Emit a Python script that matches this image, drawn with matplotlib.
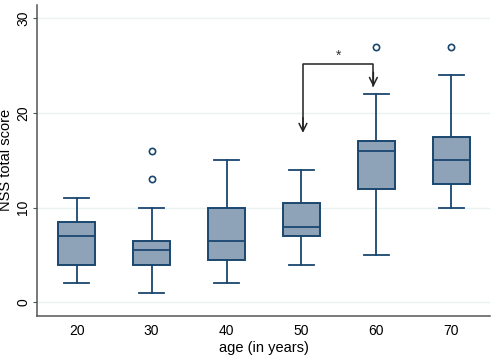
import matplotlib
matplotlib.use("Agg")
import matplotlib.pyplot as plt

ages = ["20", "30", "40", "50", "60", "70"]
whislo = [2, 1, 2, 4, 5, 10]
q1 = [4, 4, 4.5, 7, 12, 12.5]
med = [7, 5.5, 6.5, 8, 16, 15]
q3 = [8.5, 6.5, 10, 10.5, 17, 17.5]
whishi = [11, 10, 15, 14, 22, 24]
outliers = [[], [13, 16], [], [], [27], [27]]

plt.rcParams["font.family"] = ["Liberation Sans", "DejaVu Sans"]

navy = "#1a476f"
fill = "#8fa3b8"

fig = plt.figure(figsize=(4.97, 3.57), dpi=100)
ax = fig.add_axes([0.0744, 0.1157, 0.912, 0.8703])

stats = []
for i in range(len(ages)):
    stats.append(dict(whislo=whislo[i], q1=q1[i], med=med[i], q3=q3[i],
                      whishi=whishi[i], fliers=outliers[i]))

pos = list(range(len(ages)))
ax.bxp(stats, positions=pos, widths=0.49, patch_artist=True, showfliers=True,
       boxprops=dict(facecolor=fill, edgecolor=navy, linewidth=1.4),
       medianprops=dict(color=navy, linewidth=1.3),
       whiskerprops=dict(color=navy, linewidth=1.3),
       capprops=dict(color=navy, linewidth=1.3),
       capwidths=0.33,
       flierprops=dict(marker="o", markerfacecolor="none", markeredgecolor=navy,
                       markersize=4.5, markeredgewidth=1.2))

for y in [0, 10, 20, 30]:
    ax.axhline(y, color="#eaf2f3", linewidth=1, zorder=0)

# significance bracket between 50 and 60
ax.plot([3.02, 3.02, 3.96, 3.96], [18.3, 25.2, 25.2, 22.8], color="#222222",
        linewidth=1.1, zorder=3)
ax.annotate("", xy=(3.02, 17.9), xytext=(3.02, 19.5),
            arrowprops=dict(arrowstyle="->", color="#222222", lw=1.1,
                            mutation_scale=14, shrinkA=0, shrinkB=0))
ax.annotate("", xy=(3.96, 22.75), xytext=(3.96, 24.3),
            arrowprops=dict(arrowstyle="->", color="#222222", lw=1.1,
                            mutation_scale=14, shrinkA=0, shrinkB=0))
ax.text(3.5, 26.0, "*", ha="center", va="center", fontsize=10, color="#333333")

ax.set_xlim(-0.53, 5.52)
ax.set_ylim(-1.4, 31.4)
ax.set_xticks(pos)
ax.set_xticklabels(ages)
ax.set_yticks([0, 10, 20, 30])
ax.set_yticklabels(["0", "10", "20", "30"], rotation=90, va="center")

for s in ["top", "right"]:
    ax.spines[s].set_visible(False)
for s in ["left", "bottom"]:
    ax.spines[s].set_color("#555555")
    ax.spines[s].set_linewidth(1.1)
ax.tick_params(axis="both", colors="#555555", labelcolor="black", labelsize=10, length=3)
ax.tick_params(axis="x", length=0, pad=6)
ax.tick_params(axis="y", pad=2)

ax.set_xlabel("age (in years)", fontsize=10.5, labelpad=2)
ax.set_ylabel("NSS total score", fontsize=10.5, labelpad=2)

fig.savefig("out.png", dpi=100)
